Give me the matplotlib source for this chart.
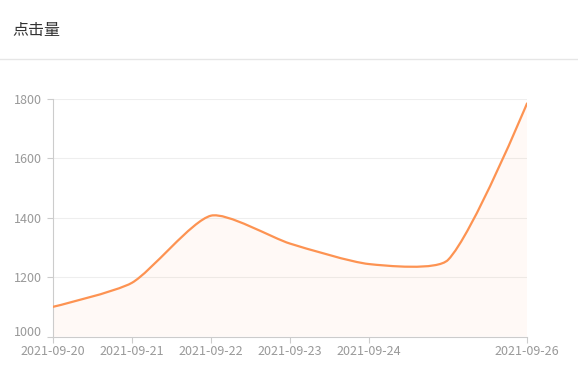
import numpy as np
import matplotlib.pyplot as plt
from matplotlib.path import Path
from matplotlib.patches import PathPatch
import matplotlib.transforms as mtransforms

plt.rcParams['font.family'] = ['Noto Sans CJK SC', 'DejaVu Sans']

dates = ['2021-09-20', '2021-09-21', '2021-09-22', '2021-09-23',
         '2021-09-24', '2021-09-25', '2021-09-26']
clicks = [1100, 1181, 1407, 1313, 1244, 1258, 1785]
shown_labels = ['2021-09-20', '2021-09-21', '2021-09-22', '2021-09-23',
                '2021-09-24', '2021-09-26']
y_ticks = [1000, 1200, 1400, 1600, 1800]


def smooth_path(xs, ys, sx, sy, smooth=0.22):
    # bezier smoothing, control points worked out in screen-scaled units
    px = np.asarray(xs, float) * sx
    py = np.asarray(ys, float) * sy
    n = len(px)
    cps_next = []
    cps_prev = []
    for i in range(n):
        if i == 0 or i == n - 1:
            cps_next.append((px[i], py[i]))
            cps_prev.append((px[i], py[i]))
            continue
        vx = px[i + 1] - px[i - 1]
        vy = py[i + 1] - py[i - 1]
        d_prev = np.hypot(px[i] - px[i - 1], py[i] - py[i - 1])
        d_next = np.hypot(px[i + 1] - px[i], py[i + 1] - py[i])
        ratio = d_next / (d_prev + d_next)
        cps_next.append((px[i] + vx * smooth * ratio, py[i] + vy * smooth * ratio))
        cps_prev.append((px[i] - vx * smooth * (1 - ratio), py[i] - vy * smooth * (1 - ratio)))
    verts = [(px[0], py[0])]
    codes = [Path.MOVETO]
    for i in range(n - 1):
        verts += [cps_next[i], cps_prev[i + 1], (px[i + 1], py[i + 1])]
        codes += [Path.CURVE4] * 3
    verts = [(x / sx, y / sy) for x, y in verts]
    return verts, codes


x = np.arange(len(dates))
fig = plt.figure(figsize=(5.78, 3.78), dpi=100)
fig.patch.set_facecolor('white')

fig.text(12 / 578, 1 - 30 / 378, '点击量', fontsize=11.5, color='#333333',
         va='center', ha='left')
fig.add_artist(plt.Line2D([0, 1], [1 - 58.5 / 378, 1 - 58.5 / 378],
                          color='#e6e6e6', lw=1, transform=fig.transFigure))

ax = fig.add_axes([53 / 578, (378 - 336.5) / 378, 474 / 578, 237.5 / 378])
ax.set_xlim(0, 6)
ax.set_ylim(1000, 1800)

verts, codes = smooth_path(x, clicks, 79.0, 0.297)
line_path = Path(verts, codes)
fill_verts = verts + [(x[-1], 1000), (x[0], 1000), verts[0]]
fill_codes = codes + [Path.LINETO, Path.LINETO, Path.CLOSEPOLY]
ax.add_patch(PathPatch(Path(fill_verts, fill_codes), facecolor='#ff9150',
                       alpha=0.05, edgecolor='none', zorder=2))
ax.add_patch(PathPatch(line_path, facecolor='none', edgecolor='#fd9352',
                       lw=1.6, zorder=3, capstyle='round'))

for yv in y_ticks[1:]:
    ax.axhline(yv, color='#eeeeee', lw=0.8, zorder=1)

for s in ['top', 'right']:
    ax.spines[s].set_visible(False)
for s in ['left', 'bottom']:
    ax.spines[s].set_color('#cccccc')
    ax.spines[s].set_linewidth(0.8)

ax.set_yticks(y_ticks)
ax.set_yticklabels([str(v) for v in y_ticks])
ax.set_xticks([dates.index(d) for d in shown_labels])
ax.set_xticklabels(shown_labels)
ax.tick_params(axis='both', colors='#cccccc', labelcolor='#999999',
               labelsize=9, length=4, width=0.8)
ax.tick_params(axis='y', pad=4)
ax.tick_params(axis='x', pad=2)

# lift the bottom y label a little, like the reference
lbl = ax.get_yticklabels()[0]
lbl.set_transform(lbl.get_transform() + mtransforms.ScaledTranslation(0, 5 / 100, fig.dpi_scale_trans))

fig.savefig('out.png', dpi=100, facecolor='white')
